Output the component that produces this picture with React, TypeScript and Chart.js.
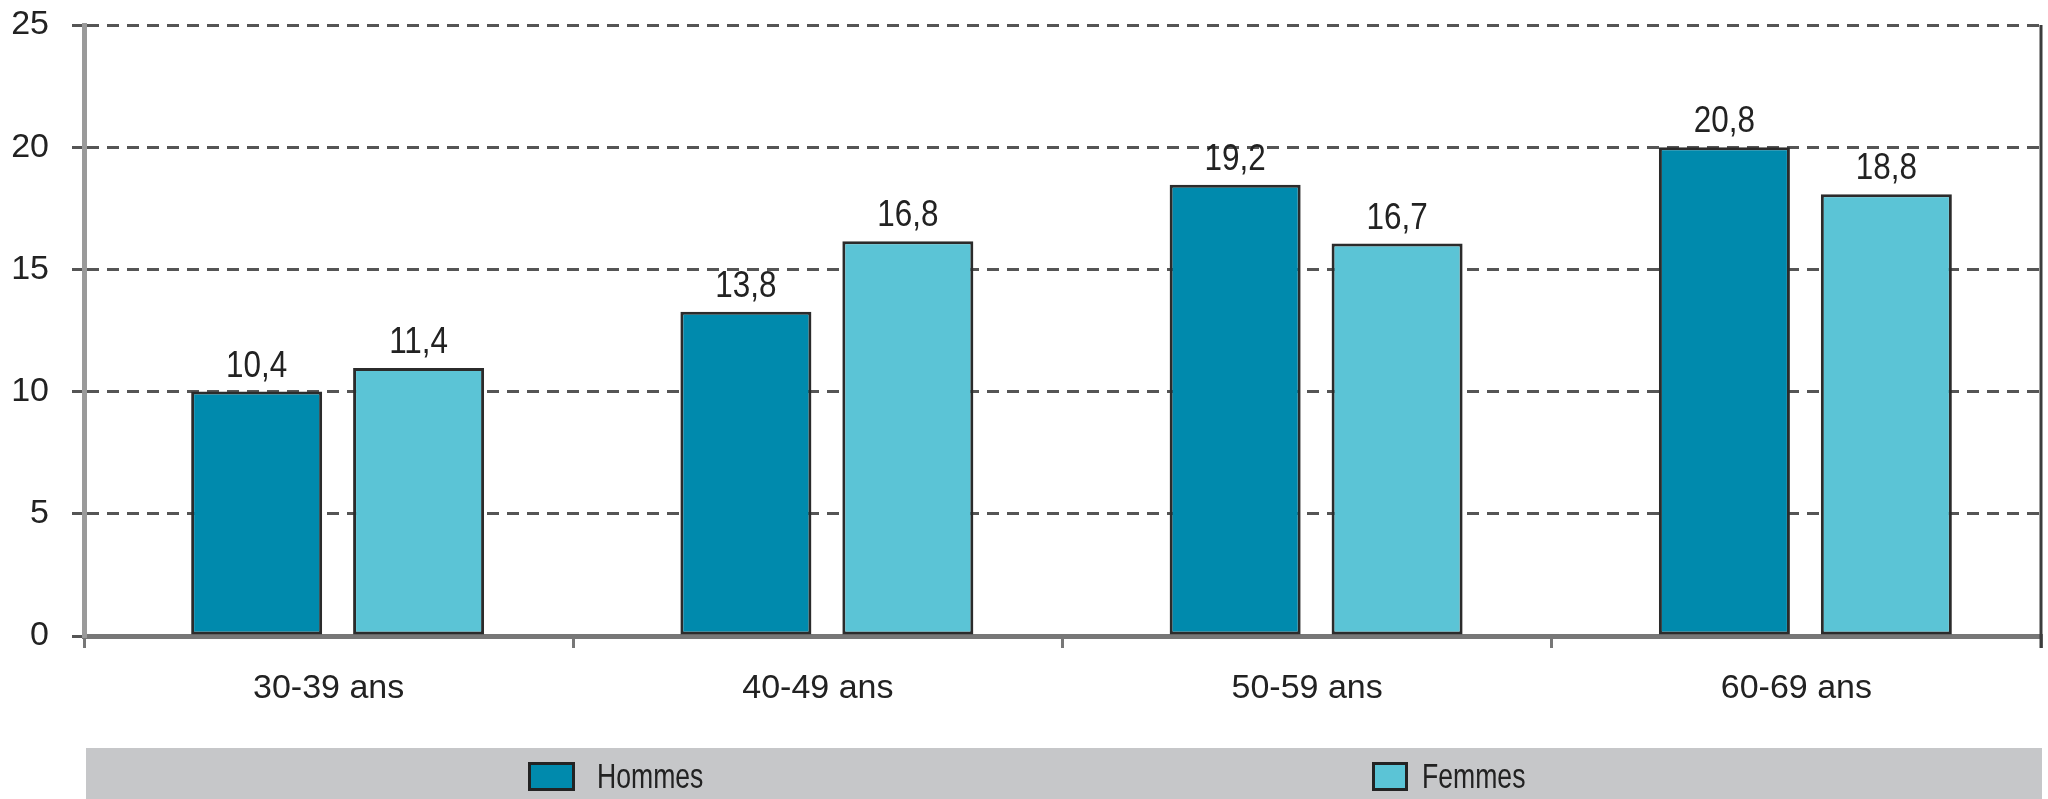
import React, { useEffect, useRef } from "react";
import { Chart, registerables } from "chart.js";

Chart.register(...registerables);

const categories = ["30-39 ans", "40-49 ans", "50-59 ans", "60-69 ans"];
const hommes = [10.4, 13.8, 19.2, 20.8];
const femmes = [11.4, 16.8, 16.7, 18.8];
const seriesNames = ["Hommes", "Femmes"];
const yTickLabels = ["0", "5", "10", "15", "20", "25"];
const yAxisMax = 26;

const FONT = "'Liberation Sans', Arial, sans-serif";
const TEXT = "#222222";

function condensedText(ctx: any, txt: string, x: number, y: number, sx: number, align: string) {
  ctx.save();
  ctx.translate(x, y);
  ctx.scale(sx, 1);
  ctx.textAlign = align;
  ctx.fillText(txt, 0, 0);
  ctx.restore();
}

const shiftPlugin = {
  id: "shiftBars",
  afterDatasetsUpdate(chart: any) {
    chart.data.datasets.forEach((_: any, i: number) => {
      chart.getDatasetMeta(i).data.forEach((el: any) => {
        el.x += 9;
      });
    });
  },
};

const labelPlugin = {
  id: "valueLabels",
  afterDatasetsDraw(chart: any) {
    const ctx = chart.ctx;
    ctx.save();
    ctx.font = `37px ${FONT}`;
    ctx.fillStyle = TEXT;
    ctx.textBaseline = "alphabetic";
    chart.data.datasets.forEach((ds: any, i: number) => {
      chart.getDatasetMeta(i).data.forEach((el: any, j: number) => {
        const txt = String(ds.data[j]).replace(".", ",");
        condensedText(ctx, txt, el.x, el.y - 15, 0.85, "center");
      });
    });
    ctx.restore();
  },
};

const framePlugin = {
  id: "frameLegend",
  afterDraw(chart: any) {
    const ctx = chart.ctx;
    const a = chart.chartArea;
    ctx.save();
    // right border line
    ctx.strokeStyle = "#3c3c3c";
    ctx.lineWidth = 3;
    ctx.beginPath();
    ctx.moveTo(a.right, a.top);
    ctx.lineTo(a.right, a.bottom + 12);
    ctx.stroke();
    // legend band
    ctx.fillStyle = "#c6c7c9";
    ctx.fillRect(a.left + 2, 748, a.right - a.left - 1, 60);
    const items = [
      { x: 528, w: 47, tx: 597 },
      { x: 1372, w: 36, tx: 1422 },
    ];
    chart.data.datasets.forEach((ds: any, i: number) => {
      const it = items[i];
      ctx.fillStyle = ds.backgroundColor;
      ctx.fillRect(it.x, 762, it.w, 29);
      ctx.strokeStyle = "#232323";
      ctx.lineWidth = 3;
      ctx.strokeRect(it.x + 1.5, 763.5, it.w - 3, 26);
      ctx.fillStyle = TEXT;
      ctx.font = `35px ${FONT}`;
      ctx.textBaseline = "alphabetic";
      condensedText(ctx, ds.label, it.tx, 788, 0.76, "left");
    });
    ctx.restore();
  },
};

export default function App() {
  const ref = useRef<HTMLCanvasElement | null>(null);
  useEffect(() => {
    document.body.style.margin = "0";
    const canvas = ref.current!;
    const chart = new Chart(canvas, {
      type: "bar",
      data: {
        labels: categories,
        datasets: [
          {
            label: seriesNames[0],
            data: hommes,
            backgroundColor: "#008aad",
            borderColor: "#2b2b2b",
            borderWidth: 3,
            borderSkipped: false,
            categoryPercentage: 0.662,
            barPercentage: 0.809,
          },
          {
            label: seriesNames[1],
            data: femmes,
            backgroundColor: "#5bc4d6",
            borderColor: "#2b2b2b",
            borderWidth: 3,
            borderSkipped: false,
            categoryPercentage: 0.662,
            barPercentage: 0.809,
          },
        ],
      },
      options: {
        responsive: false,
        animation: false,
        events: [],
        layout: { padding: { left: 0, top: 25, right: 7, bottom: 0 } },
        plugins: {
          legend: { display: false },
          tooltip: { enabled: false },
          title: { display: false },
        },
        scales: {
          x: {
            afterFit(scale: any) {
              scale.height = 163;
              scale.paddingLeft = 0;
              scale.paddingRight = 0;
            },
            grid: {
              display: true,
              drawOnChartArea: false,
              drawTicks: true,
              tickLength: 12,
              color: "#777777",
              lineWidth: 3,
            },
            border: { display: true, color: "#777777", width: 5 },
            ticks: {
              color: TEXT,
              font: { family: FONT, size: 34 },
              padding: 20,
              maxRotation: 0,
            },
          },
          y: {
            min: 0,
            max: yAxisMax,
            afterFit(scale: any) {
              scale.width = 84;
              scale.paddingTop = 0;
              scale.paddingBottom = 0;
            },
            afterBuildTicks(scale: any) {
              scale.ticks = yTickLabels.map((_, i) => ({
                value: (i * yAxisMax) / (yTickLabels.length - 1),
              }));
            },
            grid: {
              display: true,
              drawTicks: true,
              tickLength: 12,
              color: "#555555",
              lineWidth: 3,
            },
            border: { display: true, color: "#9a9a9a", width: 5, dash: [12, 8] },
            ticks: {
              color: TEXT,
              font: { family: FONT, size: 34 },
              padding: 23,
              callback: (_v: any, i: number) => yTickLabels[i],
            },
          },
        },
      },
      plugins: [shiftPlugin, labelPlugin, framePlugin],
    });
    return () => chart.destroy();
  }, []);
  return <canvas ref={ref} width={2048} height={799} style={{ display: "block" }} />;
}
